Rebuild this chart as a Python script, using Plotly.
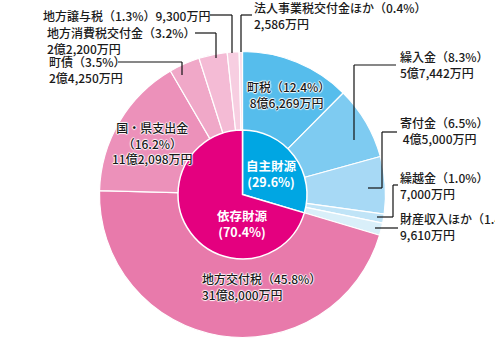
import plotly.graph_objects as go

W, H = 495, 348
FONT = "Noto Sans CJK JP"

# 歳入内訳（単位：万円）— 自主財源の項目、続いて依存財源の項目
own_names = ["町税", "繰入金", "寄付金", "繰越金", "財産収入ほか"]
own_values = [86269, 57442, 45000, 7000, 9610]
dep_names = ["地方交付税", "国・県支出金", "町債", "地方消費税交付金", "地方譲与税", "法人事業税交付金ほか"]
dep_values = [318000, 112098, 24250, 22200, 9300, 2586]
group_names = ["自主財源", "依存財源"]

own_colors = ["#56bdec", "#7ecbf1", "#a7d9f5", "#c0e4f7", "#d9eff9"]
dep_colors = ["#e87aab", "#ec91ba", "#f0a8c8", "#f4bbd5", "#f7cee1", "#fadfeb"]
group_colors = ["#00a6e3", "#e4007f"]

names = own_names + dep_names
values = own_values + dep_values
total = sum(values)
group_values = [sum(own_values), sum(dep_values)]


def pct(v):
    return f"（{v / total * 100:.1f}%）"


def amount(v):
    oku, man = divmod(v, 10000)
    return f"{oku}億{man:,}万円" if oku else f"{man:,}万円"


def X(px):
    return px / W


def Y(py):
    return 1 - py / H


def domain(cx, cy, r):
    return dict(x=[X(cx - r), X(cx + r)], y=[Y(cy + r), Y(cy - r)])


CX, CY = 242.5, 194.5

fig = go.Figure()
fig.add_trace(go.Pie(
    labels=names, values=values, sort=False, direction="clockwise", rotation=0,
    marker=dict(colors=own_colors + dep_colors, line=dict(color="white", width=1.2)),
    textinfo="none", hoverinfo="skip", domain=domain(CX, CY, 143), hole=0.4,
))
fig.add_trace(go.Pie(
    labels=group_names, values=group_values, sort=False, direction="clockwise", rotation=0,
    marker=dict(colors=group_colors, line=dict(color="white", width=1.5)),
    textinfo="none", hoverinfo="skip", domain=domain(CX, CY, 64.5),
))

v = dict(zip(names, values))
halo = "1px 0 1px white, -1px 0 1px white, 0 1px 1px white, 0 -1px 1px white"
NB = "\u00a0"

# (text, x, y of block centre, anchor, haloed)
labels = [
    (f"地方譲与税{pct(v['地方譲与税'])}{amount(v['地方譲与税'])}", 42, 15, "left", False),
    (f"法人事業税交付金ほか{pct(v['法人事業税交付金ほか'])}<br>{amount(v['法人事業税交付金ほか'])}", 253, 15, "left", False),
    (f"地方消費税交付金{pct(v['地方消費税交付金'])}<br>{amount(v['地方消費税交付金'])}", 46, 40.5, "left", False),
    (f"町債{pct(v['町債'])}<br>{amount(v['町債'])}", 48, 69.5, "left", False),
    (f"繰入金{pct(v['繰入金'])}<br>{amount(v['繰入金'])}", 399, 64, "left", False),
    (f"寄付金{pct(v['寄付金'])}<br>{NB}{amount(v['寄付金'])}", 399, 131, "left", False),
    (f"繰越金{pct(v['繰越金'])}<br>{amount(v['繰越金'])}", 399, 185, "left", False),
    (f"財産収入ほか{pct(v['財産収入ほか'])}<br>{amount(v['財産収入ほか'])}", 399, 227, "left", False),
    (f"町税{pct(v['町税'])}<br>{NB}{amount(v['町税'])}", 246, 95, "left", True),
    (f"国・県支出金<br>{pct(v['国・県支出金'])}<br>{amount(v['国・県支出金'])}", 152, 142.5, "center", True),
    (f"地方交付税{pct(v['地方交付税'])}<br>{amount(v['地方交付税'])}", 201, 286, "left", True),
]

annotations = []
for text, x, y, anchor, haloed in labels:
    font = dict(family=FONT, size=12, color="#1a1a1a", weight=500)
    if haloed:
        font["shadow"] = halo
    annotations.append(dict(text=text, x=X(x), y=Y(y), xref="paper", yref="paper",
                            xanchor=anchor, yanchor="middle", align=anchor, borderpad=0,
                            showarrow=False, font=font))

# 内側の円のラベル
for (name, gv), (x, y) in zip(zip(group_names, group_values), [(271, 173), (242, 223)]):
    annotations.append(dict(text=f"<b>{name}<br>({gv / total * 100:.1f}%)</b>", x=X(x), y=Y(y),
                            xref="paper", yref="paper", xanchor="center", yanchor="middle",
                            align="center", borderpad=0, showarrow=False,
                            font=dict(family=FONT, size=12.5, color="white")))

# 引き出し線
leaders = [
    [(210, 15), (232, 15), (232, 53)],
    [(252, 15), (241, 15), (241, 52)],
    [(195, 33), (216, 33), (216, 58)],
    [(118, 62), (182, 62), (182, 75)],
    [(396, 65), (354, 65), (354, 140)],
    [(397, 132), (382, 132), (382, 188), (368, 188)],
    [(398, 185), (393, 185), (393, 217), (377, 217)],
    [(398, 228), (375, 228)],
]
shapes = []
for pts in leaders:
    for (x0, y0), (x1, y1) in zip(pts[:-1], pts[1:]):
        shapes.append(dict(type="line", xref="paper", yref="paper",
                           x0=X(x0), y0=Y(y0), x1=X(x1), y1=Y(y1),
                           line=dict(color="#111111", width=1.2)))

fig.update_layout(
    width=W, height=H, margin=dict(l=0, r=0, t=0, b=0),
    paper_bgcolor="white", plot_bgcolor="white", showlegend=False,
    annotations=annotations, shapes=shapes,
)

fig.write_html("out.html")
